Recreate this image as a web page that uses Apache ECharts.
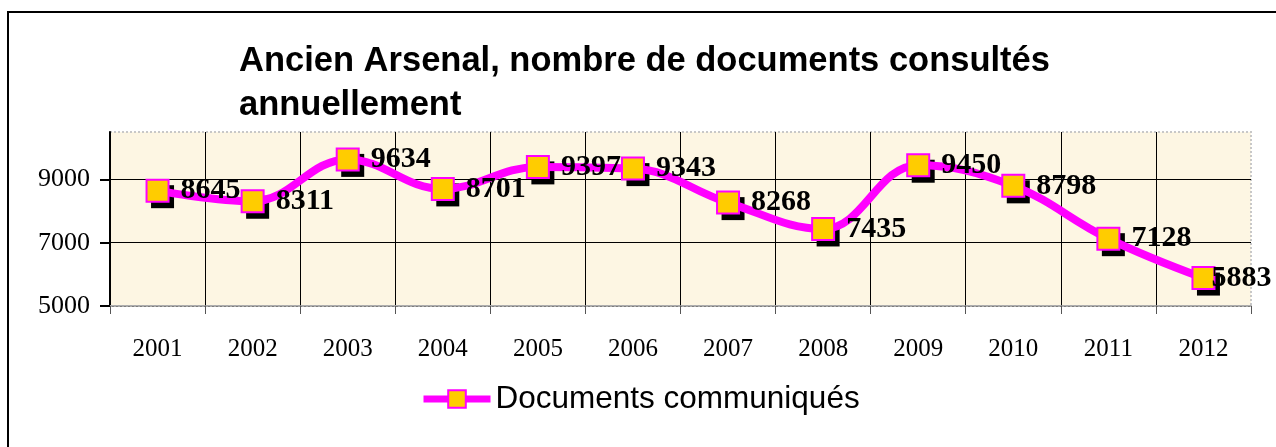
<!DOCTYPE html>
<html>
<head>
<meta charset="utf-8">
<script src="https://cdn.jsdelivr.net/npm/echarts@6/dist/echarts.min.js"></script>
<style>
html, body { margin: 0; padding: 0; background: #fff; }
#myEcharts { width: 1276px; height: 447px; }
</style>
</head>
<body>
<div id="myEcharts"></div>
<script>
var years = ['2001', '2002', '2003', '2004', '2005', '2006', '2007', '2008', '2009', '2010', '2011', '2012']
var documents = [8645, 8311, 9634, 8701, 9397, 9343, 8268, 7435, 9450, 8798, 7128, 5883]
var seriesName = 'Documents communiqués'
var titleText = 'Ancien Arsenal, nombre de documents consultés\nannuellement'

var serif = '"Liberation Serif", "Times New Roman", serif'
var sans = '"Liberation Sans", Arial, sans-serif'

// le dernier libellé est ramené sur le marqueur pour rester dans le cadre
var mainData = documents.map(function (v, i) {
    if (i === documents.length - 1) {
        return { value: v, label: { distance: -4 } }
    }
    return v
})

var myChart = echarts.init(document.getElementById('myEcharts'))

myChart.setOption({
    backgroundColor: '#fff',
    animation: false,
    title: {
        text: titleText,
        left: 234,
        top: 34,
        textStyle: {
            fontFamily: sans,
            fontWeight: 'bold',
            fontSize: 34.5,
            lineHeight: 44,
            color: '#000'
        }
    },
    legend: {
        data: [seriesName],
        left: 420,
        top: 383,
        padding: 0,
        itemWidth: 67,
        itemHeight: 22,
        itemGap: 6,
        textStyle: { fontFamily: sans, fontSize: 31.5, color: '#000' },
        lineStyle: { width: 7, color: '#ff00ff' },
        itemStyle: { color: '#ffcc00', borderColor: '#ff00ff', borderWidth: 2 }
    },
    graphic: [{
        type: 'rect',
        shape: { x: 8, y: 12, width: 1400, height: 600 },
        style: { fill: 'none', stroke: '#000', lineWidth: 2 },
        silent: true
    }],
    grid: {
        left: 110,
        top: 132,
        right: 25,
        bottom: 141,
        show: true,
        backgroundColor: '#fdf6e3',
        borderColor: '#c8c8c8',
        borderWidth: 2,
        borderType: 'dotted'
    },
    xAxis: {
        type: 'category',
        data: years,
        boundaryGap: true,
        axisLine: { lineStyle: { color: '#aaa', width: 2, type: 'dotted' } },
        axisTick: { show: true, length: 8, lineStyle: { color: '#555', width: 1 } },
        axisLabel: { fontFamily: serif, fontSize: 25, color: '#000', margin: 31 },
        splitLine: { show: true, showMinLine: false, showMaxLine: false, lineStyle: { color: '#000', width: 1 } }
    },
    yAxis: {
        type: 'value',
        min: 5000,
        max: 10500,
        interval: 2000,
        axisLine: { show: true, lineStyle: { color: '#000', width: 2 } },
        axisTick: { show: true, length: 10, lineStyle: { color: '#000', width: 2 } },
        axisLabel: {
            fontFamily: serif, fontSize: 26, color: '#000', margin: 20, showMaxLabel: false,
            formatter: function (v) { return String(v) }
        },
        splitLine: { show: true, showMaxLine: false, lineStyle: { color: '#000', width: 1 } }
    },
    series: [
        {
            // ombre noire des marqueurs
            name: 'ombre',
            type: 'line',
            data: documents,
            symbol: 'rect',
            symbolSize: 23,
            symbolOffset: [5, 6],
            showSymbol: true,
            lineStyle: { opacity: 0 },
            itemStyle: { color: '#000' },
            silent: true,
            z: 1
        },
        {
            name: seriesName,
            type: 'line',
            data: mainData,
            smooth: 0.4,
            symbol: 'rect',
            symbolSize: 22,
            lineStyle: { color: '#ff00ff', width: 8 },
            itemStyle: {
                color: '#ffcc00',
                borderColor: '#ff00ff',
                borderWidth: 2
            },
            label: {
                show: true,
                position: 'right',
                distance: 11,
                fontFamily: serif,
                fontWeight: 'bold',
                fontSize: 30,
                color: '#000'
            },
            z: 3
        }
    ]
})
</script>
</body>
</html>
